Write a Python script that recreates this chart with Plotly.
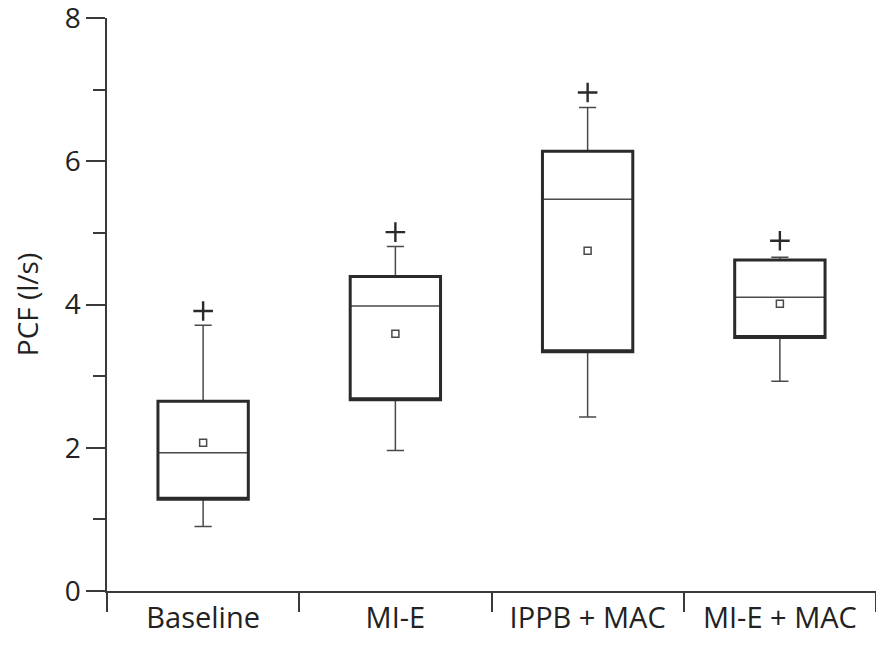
import plotly.graph_objects as go

categories = ["Baseline", "MI-E", "IPPB + MAC", "MI-E + MAC"]
q1 = [1.28, 2.67, 3.34, 3.54]
median = [1.93, 3.98, 5.47, 4.10]
q3 = [2.65, 4.39, 6.14, 4.62]
lower_whisker = [0.90, 1.96, 2.43, 2.93]
upper_whisker = [3.71, 4.81, 6.75, 4.66]
means = [2.07, 3.59, 4.75, 4.01]
maxima = [3.91, 5.01, 6.96, 4.89]

y_major_ticks = [0, 2, 4, 6, 8]
y_range = [0, 8]

FONT = "Open Sans"
DARK = "#2a2a2a"
THIN = "#4a4a4a"
AX = "#3a3a3a"
TXT = "#222222"

fig = go.Figure()

# thin parts: whiskers, caps, median
fig.add_trace(go.Box(
    x=categories, q1=q1, median=median, q3=q3,
    lowerfence=lower_whisker, upperfence=upper_whisker,
    boxpoints=False, width=0.47, whiskerwidth=0.19,
    line=dict(color=THIN, width=1.5), fillcolor="rgba(0,0,0,0)",
    showlegend=False, hoverinfo="skip",
))
# thick box outline
fig.add_trace(go.Box(
    x=categories, q1=q1, median=q1, q3=q3,
    lowerfence=q1, upperfence=q3,
    boxpoints=False, width=0.47, whiskerwidth=0,
    line=dict(color=DARK, width=3), fillcolor="rgba(0,0,0,0)",
    showlegend=False, hoverinfo="skip",
))
# means
fig.add_trace(go.Scatter(
    x=categories, y=means, mode="markers",
    marker=dict(symbol="square-open", size=7, color=THIN, line=dict(width=1.5, color=THIN)),
    showlegend=False, hoverinfo="skip",
))
# maxima
fig.add_trace(go.Scatter(
    x=categories, y=maxima, mode="markers",
    marker=dict(symbol="cross-thin-open", size=14, color=DARK, line=dict(width=2.4, color=DARK)),
    showlegend=False, hoverinfo="skip",
))

fig.update_layout(
    width=876, height=649,
    margin=dict(l=107, r=0, t=18, b=58),
    plot_bgcolor="white", paper_bgcolor="white",
    boxmode="overlay",
    font=dict(family=FONT, size=28, color=TXT),
    xaxis=dict(
        type="category", categoryorder="array", categoryarray=categories,
        range=[-0.5, 3.5], automargin=False,
        showline=True, linecolor=AX, linewidth=1.5,
        ticks="outside", tickson="boundaries", ticklen=19, tickwidth=1.5, tickcolor=AX,
        showgrid=False, zeroline=False,
        tickfont=dict(family=FONT, size=29, color=TXT),
    ),
    yaxis=dict(
        range=y_range, tickmode="array", tickvals=y_major_ticks, automargin=False,
        ticklabeloverflow="allow",
        showline=True, linecolor=AX, linewidth=1.5,
        ticks="outside", ticklen=19, tickwidth=1.5, tickcolor=AX,
        minor=dict(dtick=1, tick0=0, ticks="outside", ticklen=12, tickwidth=1.5, tickcolor=AX, showgrid=False),
        showgrid=False, zeroline=False,
        tickfont=dict(family=FONT, size=28, color=TXT),
        title=dict(text="PCF (l/s)", font=dict(family=FONT, size=28, color=TXT), standoff=18),
    ),
)

# remove the default 8px page margin so the figure fills the window exactly
fig.write_html(
    "out.html",
    config={"displayModeBar": False},
    post_script="document.body.style.margin='0';",
)
